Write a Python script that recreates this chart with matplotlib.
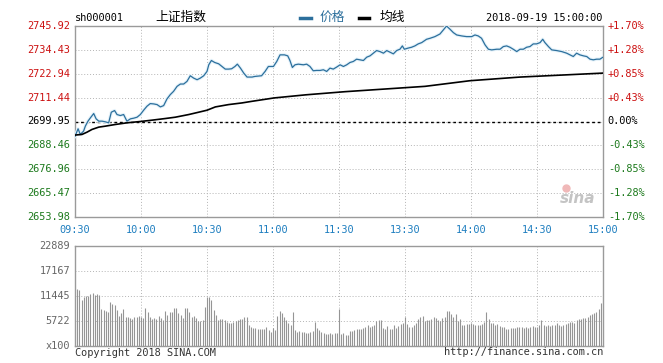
import matplotlib
matplotlib.use('Agg')
import matplotlib.pyplot as plt
from matplotlib.transforms import blended_transform_factory

plt.rcParams['font.family'] = ['DejaVu Sans Mono', 'Noto Sans CJK SC']

# minutes after 09:30 (trading time only, 11:30 == 13:00 == 120)
price_min = [0, 1.4, 2.4, 3.9, 4.7, 5.9, 7.0, 8.5, 9.6, 10.8, 12.3, 13.8, 15.3, 16.5, 18.0,
             19.1, 20.6, 22.1, 23.6, 25.2, 26.7, 28.2, 29.7, 31.2, 32.7, 34.2, 35.8, 37.3,
             38.8, 40.3, 41.8, 43.3, 44.8, 46.4, 47.9, 49.4, 50.9, 52.4, 53.9, 55.5, 57.0,
             58.5, 60.0, 60.8, 62.0, 63.5, 65.3, 66.8, 68.3, 69.8, 71.2, 72.7, 73.8, 75.2,
             76.7, 78.2, 80.5, 81.8, 84.8, 86.4, 87.9, 90.2, 91.7, 93.2, 95.2, 96.7, 97.7,
             98.8, 100.0, 101.5, 103.8, 105.3, 106.8, 108.3, 109.8, 111.4, 112.9, 114.4,
             115.9, 117.4, 118.9, 120.5, 122.0, 123.5, 125.0, 126.5, 128.0, 129.5, 131.1,
             132.6, 134.1, 135.6, 137.1, 138.6, 140.2, 141.7, 143.2, 144.7, 146.2, 147.7,
             148.8, 149.7, 151.2, 153.0, 154.5, 156.0, 157.6, 159.8, 161.4, 163.6, 165.9,
             167.4, 168.9, 170.5, 172.0, 173.5, 175.8, 178.0, 180.3, 181.8, 183.3, 184.8,
             186.4, 187.9, 189.4, 191.7, 193.2, 194.7, 196.2, 197.7, 199.2, 200.8, 202.3,
             203.8, 205.3, 206.8, 208.3, 209.8, 211.4, 212.6, 213.6, 215.2, 216.7, 218.9,
             221.2, 223.5, 225.0, 226.5, 228.0, 229.5, 231.1, 232.6, 234.1, 235.6, 237.1,
             238.6, 240.0]
price_val = [2692.80, 2696.44, 2693.73, 2695.32, 2697.71, 2700.11, 2701.71, 2703.78, 2701.23,
             2700.11, 2700.11, 2699.79, 2699.31, 2704.42, 2705.22, 2703.30, 2702.82, 2703.30,
             2700.11, 2701.23, 2701.55, 2702.02, 2703.30, 2705.38, 2707.29, 2708.57, 2708.41,
             2708.09, 2706.97, 2707.61, 2710.80, 2712.88, 2714.47, 2716.87, 2717.99, 2717.99,
             2719.26, 2721.97, 2720.86, 2720.06, 2720.86, 2721.97, 2724.05, 2727.24, 2729.32,
             2728.36, 2727.72, 2726.44, 2725.17, 2725.17, 2725.33, 2726.44, 2727.56, 2725.65,
             2723.25, 2721.34, 2721.34, 2721.65, 2721.97, 2724.05, 2726.44, 2726.44, 2728.84,
             2732.03, 2732.03, 2731.55, 2729.32, 2725.96, 2727.24, 2727.56, 2727.24, 2727.56,
             2726.44, 2724.37, 2724.53, 2724.53, 2724.85, 2724.05, 2725.65, 2725.17, 2726.12,
             2727.24, 2726.44, 2727.24, 2728.36, 2728.84, 2729.95, 2729.64, 2729.32, 2730.91,
             2731.55, 2732.83, 2734.10, 2733.62, 2732.83, 2734.10, 2733.31, 2732.51, 2734.10,
             2734.74, 2736.34, 2734.74, 2735.22, 2735.70, 2736.34, 2737.30, 2737.93, 2739.53,
             2740.01, 2740.81, 2742.08, 2744.00, 2745.92, 2744.32, 2742.72, 2741.61, 2741.13,
             2740.81, 2740.81, 2741.61, 2741.13, 2740.01, 2736.82, 2734.74, 2734.42, 2734.74,
             2734.74, 2736.02, 2736.34, 2735.70, 2734.74, 2733.62, 2734.74, 2734.74, 2735.70,
             2736.02, 2737.30, 2737.30, 2737.93, 2739.53, 2737.93, 2736.02, 2734.42, 2734.10,
             2733.62, 2732.83, 2732.03, 2731.23, 2732.83, 2732.03, 2731.55, 2731.23, 2729.95,
             2729.64, 2729.95, 2729.95, 2730.91]

avg_min = [0, 3.2, 5.5, 7.7, 10.8, 13.8, 18.3, 23.6, 29.7, 35.0, 41.1, 45.6, 51.7, 56.2,
           60.0, 63.8, 69.8, 75.9, 80.5, 90.5, 105.0, 122.7, 159.1, 179.5, 202.3, 240.0]
avg_val = [2693.41, 2693.73, 2694.84, 2696.12, 2697.24, 2697.71, 2698.51, 2699.31, 2699.95,
           2700.59, 2701.39, 2702.02, 2703.30, 2704.42, 2705.38, 2706.97, 2708.09, 2708.89,
           2709.68, 2711.29, 2712.80, 2714.30, 2716.87, 2719.58, 2721.34, 2723.25]

# volume per minute (x100)
vol_am = [13120, 12740, 10530, 11290, 11450, 11520, 11830, 12060, 11670, 11900, 11670, 8470,
          8240, 8010, 7710, 10070, 9690, 9380, 8240, 6940, 7480, 8470, 6560, 6560, 6330, 6180,
          6560, 6710, 6870, 6560, 6490, 8770, 7710, 6560, 6100, 6330, 6100, 6870, 6410, 5950,
          8010, 7100, 7860, 7860, 8700, 8700, 7480, 7020, 6490, 8700, 8700, 7780, 6560, 6790,
          6410, 5800, 5800, 5950, 9000, 11220, 11290, 10530, 8240, 7170, 5950, 6100, 6180,
          5950, 5490, 5340, 5340, 5490, 5650, 5950, 6260, 6260, 6560, 6560, 4810, 4430, 4120,
          4040, 3820, 3820, 3890, 3970, 4270, 3660, 3200, 4040, 3660, 6870, 8090, 7480, 6560,
          5950, 5190, 4810, 7780, 3660, 3280, 3430, 3200, 3130, 3050, 2900, 3200, 3430, 5570,
          4040, 3660, 3280, 2900, 2750, 2670, 2900, 2750, 2900, 3050, 8470]
vol_pm = [2750, 2900, 2520, 2520, 3510, 3360, 3660, 3820, 3970, 3820, 4120, 4270, 4810, 4270,
          4580, 4810, 5800, 5950, 5950, 4120, 3970, 4580, 3890, 3970, 4810, 4200, 4580, 4960,
          5340, 6560, 5040, 4430, 4430, 4730, 5340, 6100, 6560, 6870, 5800, 5880, 5950, 6100,
          6710, 6490, 5950, 5800, 6330, 6710, 8010, 7940, 7320, 6560, 7320, 5800, 6100, 4730,
          4880, 5040, 5040, 5190, 5040, 4880, 4730, 4810, 4960, 5570, 7710, 6100, 5340, 5190,
          4810, 5040, 4580, 4430, 4430, 3970, 3970, 4120, 4120, 4040, 4270, 4430, 4270, 4120,
          4270, 4040, 4430, 4580, 4270, 4430, 4810, 5950, 4810, 4580, 4730, 4580, 4810, 4880,
          5190, 4730, 4580, 4810, 5040, 5340, 5570, 5570, 5340, 5950, 6100, 6260, 6330, 6330,
          6710, 7020, 7320, 7630, 7860, 8390, 9920, 230]

prev_close = 2699.95
price_ticks = [2653.98, 2665.47, 2676.96, 2688.46, 2699.95, 2711.44, 2722.94, 2734.43, 2745.92]
pct_labels = ['-1.70%', '-1.28%', '-0.85%', '-0.43%', '0.00%', '+0.43%', '+0.85%', '+1.28%', '+1.70%']
vol_ticks = [0, 5722, 11445, 17167, 22889]
vol_labels = ['x100', '5722', '11445', '17167', '22889']
time_ticks = [0, 30, 60, 90, 120, 150, 180, 210, 240]
time_labels = ['09:30', '10:00', '10:30', '11:00', '11:30', '13:30', '14:00', '14:30', '15:00']

W, H = 663, 363
RED, GREEN, BLUE = '#cc1111', '#1d7a1d', '#1f7fc0'
LINE = '#2c6f9c'
fs = 7.4

fig = plt.figure(figsize=(W / 100, H / 100), dpi=100)
ax = fig.add_axes([75 / W, 1 - 217 / H, 528 / W, 191 / H])
vax = fig.add_axes([75 / W, 1 - 346 / H, 528 / W, 100 / H])

for a in (ax, vax):
    for s in a.spines.values():
        s.set_color('#9a9a9a')
        s.set_linewidth(1)
    a.set_xlim(0, 240)
    a.set_xticks(time_ticks)
    a.tick_params(length=0)
    a.grid(True, color='#b4b4b4', linestyle=(0, (1, 2)), linewidth=0.7)
    a.set_axisbelow(True)

# price panel
ax.set_ylim(price_ticks[0], price_ticks[-1])
ax.set_yticks(price_ticks)
ax.set_yticklabels([])
ax.set_xticklabels(time_labels, color=BLUE, fontsize=fs)
ax.tick_params(axis='x', pad=6)
ax.axhline(prev_close, color='black', linestyle=(0, (2, 2)), linewidth=1, zorder=2)
ax.plot(price_min, price_val, color='#e4f2fa', linewidth=2.4, zorder=3)
ax.plot(price_min, price_val, color=LINE, linewidth=0.9, zorder=4)
ax.plot(avg_min, avg_val, color='black', linewidth=1.2, zorder=4)

tl = blended_transform_factory(ax.transAxes, ax.transData)
for v, p in zip(price_ticks, pct_labels):
    c = RED if v > prev_close else (GREEN if v < prev_close else 'black')
    ax.text(-0.009, v, f'{v:.2f}', transform=tl, ha='right', va='center', color=c, fontsize=fs)
    ax.text(1.009, v, p, transform=tl, ha='left', va='center', color=c, fontsize=fs)

ax.text(0.985, 0.06, 'sina', transform=ax.transAxes, ha='right', va='bottom',
        fontsize=11, fontstyle='italic', fontweight='bold', color='#c4c4c4', family='DejaVu Sans')
ax.plot([0.93], [0.15], 'o', transform=ax.transAxes, color='#f0b8b8', markersize=5)

# volume panel
vax.vlines(range(1, len(vol_am) + 1), 0, vol_am, colors='#959595', linewidth=0.8)
vax.vlines(range(121, 121 + len(vol_pm)), 0, vol_pm, colors='#959595', linewidth=0.8)
vax.set_ylim(0, vol_ticks[-1])
vax.set_yticks(vol_ticks)
vax.set_yticklabels([])
vax.set_xticklabels([])
tv = blended_transform_factory(vax.transAxes, vax.transData)
for v, lab in zip(vol_ticks, vol_labels):
    vax.text(-0.009, v, lab, transform=tv, ha='right', va='center', color='#666666', fontsize=fs)

# header / footer
def fx(x):
    return x / W

def fy(y):
    return 1 - y / H

fig.text(fx(75), fy(18), 'sh000001', fontsize=fs, va='center', ha='left')
fig.text(fx(155), fy(17), '上证指数', fontsize=9.2, va='center', ha='left',
         family=['Noto Sans CJK SC', 'DejaVu Sans'])
fig.lines.append(plt.Line2D([fx(300), fx(311)], [fy(18), fy(18)], color=LINE,
                            linewidth=2.5, transform=fig.transFigure))
fig.text(fx(320), fy(17), '价格', fontsize=9.2, va='center', ha='left', color=LINE,
         family=['Noto Sans CJK SC', 'DejaVu Sans'])
fig.lines.append(plt.Line2D([fx(359), fx(369)], [fy(18), fy(18)], color='black',
                            linewidth=2.5, transform=fig.transFigure))
fig.text(fx(380), fy(17), '均线', fontsize=9.2, va='center', ha='left',
         family=['Noto Sans CJK SC', 'DejaVu Sans'])
fig.text(fx(602), fy(18), '2018-09-19 15:00:00', fontsize=fs, va='center', ha='right')
fig.text(fx(75), fy(353), 'Copyright 2018 SINA.COM', fontsize=fs, va='center', ha='left', color='#333333')
fig.text(fx(603), fy(352), 'http://finance.sina.com.cn', fontsize=fs, va='center', ha='right', color='#333333')

fig.savefig('out.png', dpi=100, facecolor='white')
